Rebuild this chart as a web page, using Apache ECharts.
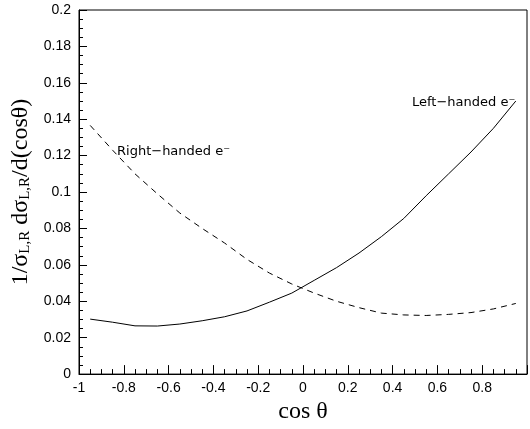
<!DOCTYPE html>
<html>
<head>
<meta charset="utf-8">
<script src="https://cdn.jsdelivr.net/npm/echarts@6/dist/echarts.min.js"></script>
<style>
  html, body { margin: 0; padding: 0; background: #fff; }
  #chart { width: 530px; height: 429px; }
</style>
</head>
<body>
<div id="chart"></div>
<script>
// cos(theta) sample points
const cosTheta = [-0.95, -0.85, -0.75, -0.65, -0.55, -0.45, -0.35, -0.25, -0.15, -0.05,
                   0.05,  0.15,  0.25,  0.35,  0.45,  0.55,  0.65,  0.75,  0.85,  0.95];
// normalised angular distribution, left-handed electrons
const leftHanded = [0.0302, 0.0285, 0.0265, 0.0264, 0.0275, 0.0293, 0.0315, 0.0347, 0.0395, 0.0445,
                    0.0515, 0.0585, 0.0665, 0.0755, 0.0855, 0.0980, 0.1100, 0.1220, 0.1350, 0.1500];
// normalised angular distribution, right-handed electrons
const rightHanded = [0.1366, 0.1230, 0.1100, 0.0990, 0.0885, 0.0800, 0.0720, 0.0630, 0.0555, 0.0495,
                     0.0445, 0.0400, 0.0365, 0.0335, 0.0325, 0.0322, 0.0328, 0.0338, 0.0358, 0.0388];
// axis ticks
const xTicks = [-1, -0.8, -0.6, -0.4, -0.2, 0, 0.2, 0.4, 0.6, 0.8, 1];
const yTicks = [0, 0.02, 0.04, 0.06, 0.08, 0.1, 0.12, 0.14, 0.16, 0.18, 0.2];
const xTickLabels = ['-1', '-0.8', '-0.6', '-0.4', '-0.2', '0', '0.2', '0.4', '0.6', '0.8', ''];
const yTickLabels = ['0', '0.02', '0.04', '0.06', '0.08', '0.1', '0.12', '0.14', '0.16', '0.18', '0.2'];

const pairs = (xs, ys) => xs.map((x, i) => [x, ys[i]]);
const labelFor = (ticks, labels) => v => {
  const i = ticks.findIndex(t => Math.abs(t - v) < 1e-9);
  return i >= 0 ? labels[i] : '';
};

const chart = echarts.init(document.getElementById('chart'), null, { renderer: 'canvas' });
const tickFont = { fontFamily: 'Liberation Sans', fontSize: 14, color: '#000' };

chart.setOption({
  animation: false,
  backgroundColor: '#fff',
  grid: { left: 79, right: -3, top: 10, bottom: 46, show: true, borderColor: '#000', borderWidth: 1 },
  xAxis: {
    type: 'value', min: -1, max: 1, interval: 0.2,
    name: 'cos θ', nameLocation: 'middle', nameGap: 19,
    nameTextStyle: { fontFamily: 'Liberation Serif', fontSize: 24, lineHeight: 24, color: '#000' },
    axisLine: { onZero: false, lineStyle: { color: '#000', width: 1 } },
    axisTick: { inside: true, length: 9, lineStyle: { color: '#000' } },
    minorTick: { show: true, splitNumber: 4, length: 5, lineStyle: { color: '#000' } },
    axisLabel: Object.assign({ margin: 7, formatter: labelFor(xTicks, xTickLabels) }, tickFont),
    splitLine: { show: false }
  },
  yAxis: {
    type: 'value', min: 0, max: 0.2, interval: 0.02,
    name: '{m|1/σ}{s|L,R}{m| dσ}{s|L,R}{m|/d(cosθ)}',
    nameLocation: 'middle', nameGap: 44,
    nameTextStyle: {
      fontFamily: 'Liberation Serif', fontSize: 24, color: '#000',
      rich: {
        m: { fontFamily: 'Liberation Serif', fontSize: 24, lineHeight: 24, color: '#000' },
        s: { fontFamily: 'Liberation Serif', fontSize: 15, lineHeight: 6, verticalAlign: 'bottom', color: '#000' }
      }
    },
    axisLine: { onZero: false, lineStyle: { color: '#000', width: 1 } },
    axisTick: { inside: true, length: 8, lineStyle: { color: '#000' } },
    minorTick: { show: true, splitNumber: 4, length: 4, lineStyle: { color: '#000' } },
    axisLabel: Object.assign({ margin: 8, formatter: labelFor(yTicks, yTickLabels) }, tickFont),
    splitLine: { show: false }
  },
  series: [
    {
      name: 'Left-handed', type: 'line', data: pairs(cosTheta, leftHanded),
      symbol: 'none', lineStyle: { color: '#000', width: 1 }
    },
    {
      name: 'Right-handed', type: 'line', data: pairs(cosTheta, rightHanded),
      symbol: 'none', lineStyle: { color: '#000', width: 1, type: [6, 5] }
    }
  ],
  graphic: [
    {
      type: 'text', left: 117, top: 145,
      style: { text: 'Right−handed e⁻', fontFamily: 'DejaVu Sans', fontSize: 13, fill: '#000' }
    },
    {
      type: 'text', left: 412, top: 96,
      style: { text: 'Left−handed e⁻', fontFamily: 'DejaVu Sans', fontSize: 13, fill: '#000' }
    }
  ]
});
</script>
</body>
</html>
